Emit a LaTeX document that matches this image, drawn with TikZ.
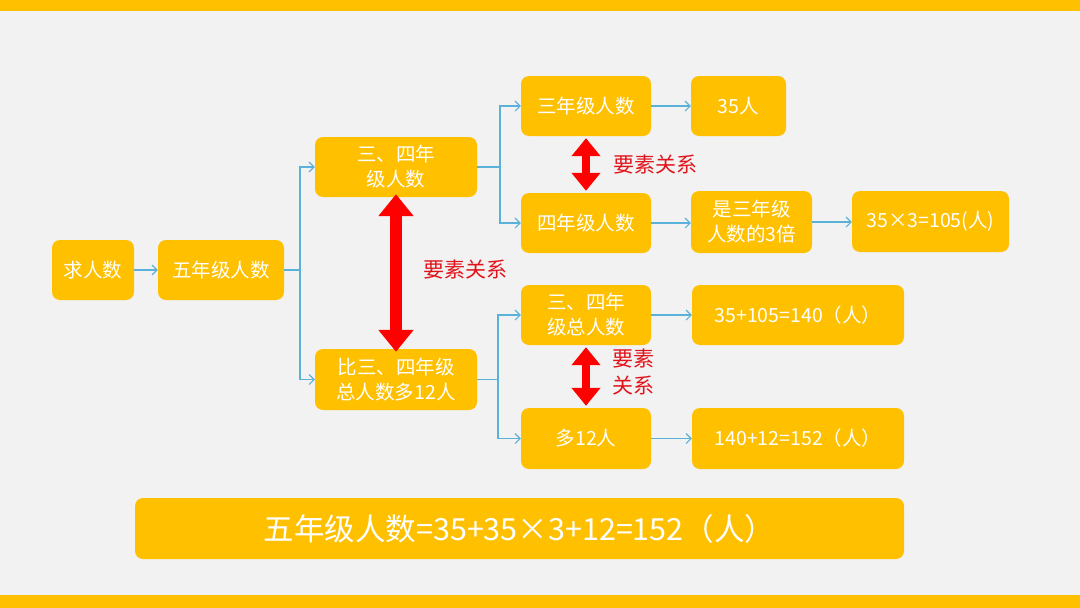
\documentclass[tikz,border=0pt]{standalone}
\usepackage{fontspec}
\setmainfont{Noto Sans CJK SC}
\usetikzlibrary{arrows.meta}
\definecolor{bg}{HTML}{F2F2F2}
\definecolor{gold}{HTML}{FFC000}
\definecolor{lb}{HTML}{5BB2D9}
\definecolor{rd}{HTML}{FF0000}
\definecolor{rtext}{HTML}{E1141B}
\begin{document}
\begin{tikzpicture}[x=1pt,y=-1pt,
  box/.style={fill=gold, rounded corners=8pt, text=white, font=\fontsize{19.5}{25}\selectfont, align=center, inner sep=0pt},
  conn/.style={draw=lb, line width=1.1pt, -{Straight Barb[length=5pt,width=10pt]}},
  bigred/.style={draw=rd, line width=12pt, {Triangle[width=34pt,length=22pt]}-{Triangle[width=34pt,length=22pt]}, shorten <=-3pt, shorten >=-3pt},
  smallred/.style={draw=rd, line width=8pt, {Triangle[width=28pt,length=18pt]}-{Triangle[width=28pt,length=18pt]}, shorten <=2pt, shorten >=2pt},
  rlab/.style={text=rtext, font=\fontsize{21}{27}\selectfont, align=center, inner sep=0pt}]
\useasboundingbox (0,0) rectangle (1080,608);
\fill[bg] (0,0) rectangle (1080,608);
\fill[gold] (0,0) rectangle (1080,11);
\fill[gold] (0,595) rectangle (1080,608);

\node[box, minimum width=82pt, minimum height=60pt] (q) at (93,270) {求人数};
\node[box, minimum width=126pt, minimum height=60pt] (w) at (221,270) {五年级人数};
\node[box, minimum width=162pt, minimum height=60pt] (a) at (396,167) {三、四年\\级人数};
\node[box, minimum width=162pt, minimum height=61pt] (b) at (396,379.5) {比三、四年级\\总人数多12人};
\node[box, minimum width=130pt, minimum height=60pt] (c) at (586,106) {三年级人数};
\node[box, minimum width=95pt, minimum height=60pt] (d) at (738.5,106) {35人};
\node[box, minimum width=130pt, minimum height=60pt] (e) at (586,223) {四年级人数};
\node[box, minimum width=121pt, minimum height=62pt] (f) at (751.5,222) {是三年级\\人数的3倍};
\node[box, minimum width=157pt, minimum height=61pt] (g) at (930.5,221.5) {35×3=105(人)};
\node[box, minimum width=130pt, minimum height=60pt] (h) at (586,315) {三、四年\\级总人数};
\node[box, minimum width=212pt, minimum height=60pt] (i) at (798,315) {35+105=140（人）};
\node[box, minimum width=130pt, minimum height=61pt] (j) at (586,438.5) {多12人};
\node[box, minimum width=212pt, minimum height=61pt] (k) at (798,438.5) {140+12=152（人）};
\node[box, minimum width=769pt, minimum height=61pt, font=\fontsize{30.5}{34}\selectfont] (m) at (519.5,528.5) {五年级人数=35+35×3+12=152（人）};

\coordinate (j1) at (300,270);
\coordinate (j2) at (500,167);
\coordinate (j3) at (498,379.5);

\draw[conn] (q.east) -- (w.west);
\draw[conn] (w.east) -- (j1) |- (a.west);
\draw[conn] (j1) |- (b.west);
\draw[conn] (a.east) -- (j2) |- (c.west);
\draw[conn] (j2) |- (e.west);
\draw[conn] (c.east) -- (d.west);
\draw[conn] (e.east) -- (e.east -| f.west);
\draw[conn] (f.east) -- (f.east -| g.west);
\draw[conn] (b.east) -- (j3) |- (h.west);
\draw[conn] (j3) |- (j.west);
\draw[conn] (h.east) -- (i.west);
\draw[conn] (j.east) -- (j.east -| k.west);

\draw[bigred] (a.south) -- (b.north);
\draw[smallred] (c.south) -- (e.north);
\draw[smallred] (h.south) -- (j.north);

\node[rlab] (r1) at (465,270) {要素关系};
\node[rlab] (r2) at (655,165) {要素关系};
\node[rlab] (r3) at (633,372) {要素\\关系};
\end{tikzpicture}
\end{document}
